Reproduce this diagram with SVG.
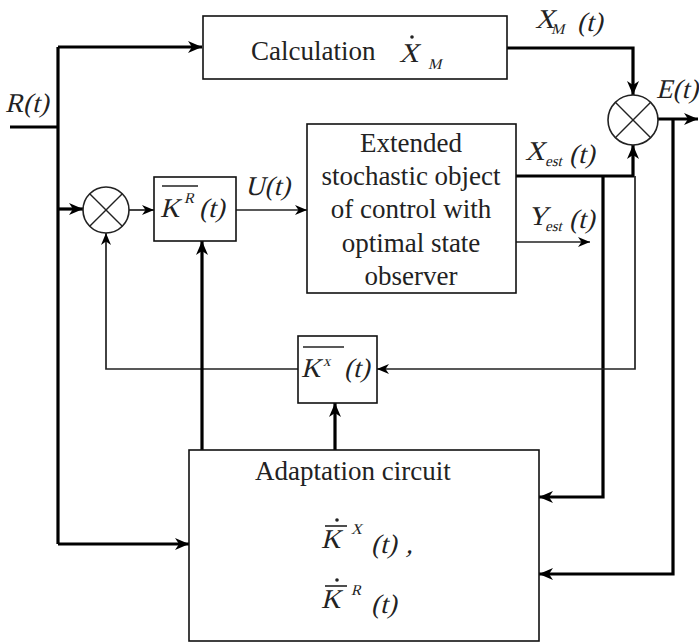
<svg xmlns="http://www.w3.org/2000/svg" width="699" height="642" viewBox="0 0 699 642">
<defs>
<style>
.box{fill:#fff;stroke:#111;stroke-width:1.6}
.sum{fill:#fff;stroke:#222;stroke-width:1.6}
.sx{stroke:#222;stroke-width:1.4}
.thick{fill:none;stroke:#000;stroke-width:3.2}
.thin{fill:none;stroke:#222;stroke-width:1.7}
.t{font-family:'Liberation Serif',serif;font-size:27px;fill:#222}
.m{font-family:'Liberation Serif',serif;font-size:27px;fill:#222}
.sub{font-family:'Liberation Serif',serif;font-size:15px;fill:#222}
.bar{stroke:#222;stroke-width:1.6}
</style>
<marker id="ah" markerUnits="userSpaceOnUse" markerWidth="16" markerHeight="12" refX="14" refY="6" orient="auto">
<path d="M0,0 L14,6 L0,12 L4,6 z" fill="#000"/>
</marker>
<marker id="ahs" markerUnits="userSpaceOnUse" markerWidth="14" markerHeight="10" refX="12" refY="5" orient="auto">
<path d="M0,0 L12,5 L0,10 L3.5,5 z" fill="#000"/>
</marker>
</defs>

<g id="connectors">
<path class="thick" d="M10,127 H58"/>
<path class="thick" d="M58,47 V544"/>
<path class="thick" d="M58,47 H202" marker-end="url(#ah)"/>
<path class="thick" d="M58,209 H83" marker-end="url(#ah)"/>
<path class="thin" d="M129,210 H154" marker-end="url(#ahs)"/>
<path class="thin" d="M236,210 H307" marker-end="url(#ahs)"/>
<path class="thick" d="M58,544 H189" marker-end="url(#ah)"/>
<path class="thick" d="M507,48 H633 V95" marker-end="url(#ah)"/>
<path class="thick" d="M516,176 H633 V145" marker-end="url(#ah)"/>
<path class="thick" d="M603,176 V497 H539" marker-end="url(#ah)"/>
<path class="thin" d="M635,176 V369 H377" marker-end="url(#ahs)"/>
<path class="thin" d="M298,369 H106 V233" marker-end="url(#ahs)"/>
<path class="thick" d="M202,450 V241" marker-end="url(#ah)"/>
<path class="thick" d="M335,450 V403" marker-end="url(#ah)"/>
<path class="thick" d="M658,119 H698" marker-end="url(#ah)"/>
<path class="thick" d="M673,119 V574 H539" marker-end="url(#ah)"/>
<path class="thin" d="M516,242 H590" marker-end="url(#ahs)"/>
</g>

<g id="labels">
<text class="m" transform="translate(5,112) skewX(-14)">R(t)</text>
<text class="m" transform="translate(245,195) skewX(-14)">U(t)</text>
<g id="xm-label">
<text class="m" transform="translate(535,28) skewX(-14)">X</text>
<text class="sub" transform="translate(551,34) skewX(-14)">M</text>
<text class="m" transform="translate(577,31) skewX(-14)">(t)</text>
</g>
<g id="xest-label">
<text class="m" transform="translate(525,160) skewX(-14)">X</text>
<text class="sub" font-size="11" transform="translate(545,166) skewX(-14)">est</text>
<text class="m" transform="translate(569,163) skewX(-14)">(t)</text>
</g>
<g id="yest-label">
<text class="m" transform="translate(528,225) skewX(-14)">Y</text>
<text class="sub" font-size="11" transform="translate(545,231) skewX(-14)">est</text>
<text class="m" transform="translate(569,228) skewX(-14)">(t)</text>
</g>
<text class="m" font-size="24" transform="translate(656,98) skewX(-14)">E(t)</text>
</g>

<g id="calc">
<rect class="box" x="203" y="16" width="304" height="63"/>
<text class="t" x="251" y="60">Calculation</text>
<text class="m" font-size="29" transform="translate(399,62) skewX(-14)">X</text>
<circle cx="412" cy="37" r="1.8" fill="#222"/>
<text class="sub" font-size="17" transform="translate(428,69) skewX(-14)">M</text>
</g>

<g id="sum1">
<circle class="sum" cx="106" cy="210" r="23"/>
<line class="sx" x1="89.7" y1="193.7" x2="122.3" y2="226.3"/>
<line class="sx" x1="122.3" y1="193.7" x2="89.7" y2="226.3"/>
</g>

<g id="sum2">
<circle class="sum" cx="633" cy="120" r="25"/>
<line class="sx" x1="615.3" y1="102.3" x2="650.7" y2="137.7"/>
<line class="sx" x1="650.7" y1="102.3" x2="615.3" y2="137.7"/>
</g>

<g id="kr">
<rect class="box" x="154" y="177" width="82" height="64"/>
<line class="bar" x1="162" y1="186" x2="198" y2="186"/>
<text class="m" transform="translate(160,217) skewX(-14)">K</text>
<text class="sub" transform="translate(184,203) skewX(-14)">R</text>
<text class="m" transform="translate(199,217) skewX(-14)">(t)</text>
</g>

<g id="object">
<rect class="box" x="307" y="124" width="209" height="169"/>
<text class="t" x="411" y="152" text-anchor="middle">Extended</text>
<text class="t" x="411" y="185" text-anchor="middle">stochastic object</text>
<text class="t" x="411" y="218" text-anchor="middle">of control with</text>
<text class="t" x="411" y="252" text-anchor="middle">optimal  state</text>
<text class="t" x="411" y="285" text-anchor="middle">observer</text>
</g>

<g id="kx">
<rect class="box" x="298" y="336" width="79" height="67"/>
<line class="bar" x1="303" y1="347" x2="344" y2="347"/>
<text class="m" transform="translate(301,377) skewX(-14)">K</text>
<text class="sub" transform="translate(323,366) skewX(-14)">x</text>
<text class="m" transform="translate(344,377) skewX(-14)">(t)</text>
</g>

<g id="adapt">
<rect class="box" x="189" y="450" width="350" height="191"/>
<text class="t" x="255" y="480">Adaptation circuit</text>
<line class="bar" x1="325" y1="526" x2="347" y2="526"/>
<circle cx="337" cy="520" r="1.8" fill="#222"/>
<text class="m" font-size="28" transform="translate(321,548) skewX(-14)">K</text>
<text class="sub" font-size="16" transform="translate(351,534) skewX(-14)">X</text>
<text class="m" transform="translate(371,553) skewX(-14)">(t)</text>
<text class="m" font-size="16" transform="translate(406,553) skewX(-14)">,</text>
<line class="bar" x1="325" y1="586" x2="347" y2="586"/>
<circle cx="337" cy="580" r="1.8" fill="#222"/>
<text class="m" font-size="28" transform="translate(321,608) skewX(-14)">K</text>
<text class="sub" font-size="16" transform="translate(351,595) skewX(-14)">R</text>
<text class="m" transform="translate(371,613) skewX(-14)">(t)</text>
</g>
</svg>
